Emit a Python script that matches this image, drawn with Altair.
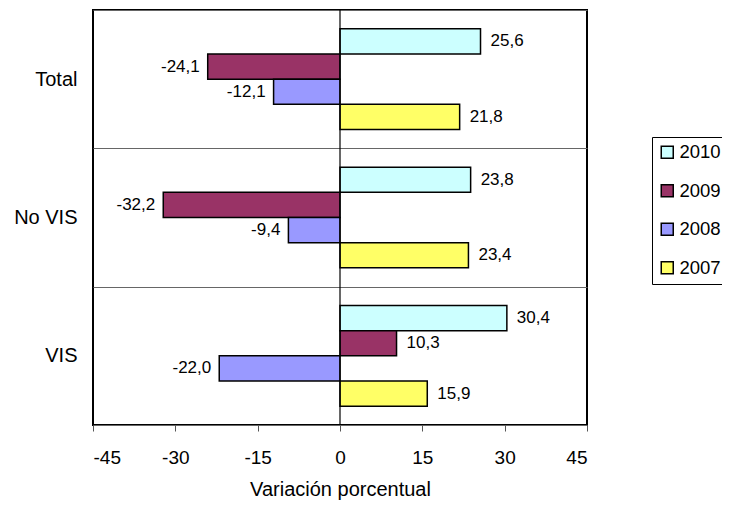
import altair as alt
import pandas as pd

categories = ["Total", "No VIS", "VIS"]
years = ["2010", "2009", "2008", "2007"]
values = {
    "Total": [25.6, -24.1, -12.1, 21.8],
    "No VIS": [23.8, -32.2, -9.4, 23.4],
    "VIS": [30.4, 10.3, -22.0, 15.9],
}
colors = ["#CCFFFF", "#993366", "#9999FF", "#FFFF66"]
x_ticks = [-45, -30, -15, 0, 15, 30, 45]

rows = []
for c in categories:
    for y, v in zip(years, values[c]):
        rows.append({"cat": c, "year": y, "val": v,
                     "label": f"{v:.1f}".replace(".", ",")})
df = pd.DataFrame(rows)

FONT = "Liberation Sans"

x_enc = alt.X("val:Q", scale=alt.Scale(domain=[-45, 45], nice=False, zero=False),
              axis=alt.Axis(values=x_ticks, title="Variación porcentual",
                            labelExpr="toString(datum.value)",
                            grid=False, domain=False, tickSize=6, tickColor="#555555",
                            labelFontSize=19, labelPadding=17, titleFontSize=20,
                            titleFontWeight="normal", titlePadding=12,
                            labelFont=FONT, titleFont=FONT, labelColor="black",
                            titleColor="black"))
y_enc = alt.Y("cat:N", sort=categories,
              scale=alt.Scale(paddingInner=0, paddingOuter=0),
              axis=alt.Axis(title=None, grid=True, tickBand="extent", gridColor="#666666",
                            gridWidth=1, ticks=False, domain=False, labelFontSize=20,
                            labelPadding=16, labelFont=FONT, labelColor="black"))
yoff = alt.YOffset("year:N", sort=years, scale=alt.Scale(paddingInner=0, paddingOuter=0.75))

base = alt.Chart(df)

bars = base.mark_bar(stroke="black", strokeWidth=1.5, opacity=1).encode(
    x=x_enc,
    y=y_enc,
    yOffset=yoff,
    color=alt.Color("year:N", sort=years,
                    scale=alt.Scale(domain=years, range=colors),
                    legend=alt.Legend(title=None, orient="none", legendX=559, legendY=127,
                                      symbolType="square", symbolSize=144,
                                      symbolStrokeColor="black", symbolStrokeWidth=1.5,
                                      symbolOpacity=1, labelFontSize=18.5, labelFont=FONT,
                                      labelColor="black", rowPadding=19.5, padding=6,
                                      strokeColor="black", fillColor="white",
                                      labelOffset=3)),
)

pos = base.transform_filter("datum.val >= 0").mark_text(
    align="left", baseline="middle", dx=10, fontSize=17, font=FONT, color="black"
).encode(x="val:Q", y=alt.Y("cat:N", sort=categories), yOffset=yoff, text="label:N")

neg = base.transform_filter("datum.val < 0").mark_text(
    align="right", baseline="middle", dx=-8, fontSize=17, font=FONT, color="black"
).encode(x="val:Q", y=alt.Y("cat:N", sort=categories), yOffset=yoff, text="label:N")

zero = alt.Chart(pd.DataFrame({"z": [0]})).mark_rule(color="black", strokeWidth=1.2).encode(
    x="z:Q")

chart = alt.layer(bars, zero, pos, neg).properties(
    width=494, height=415,
    autosize=alt.AutoSizeParams(type="none"),
    padding={"left": 85, "top": 2, "right": 135, "bottom": 78},
).configure_view(stroke="black", strokeWidth=2)

chart.save("out.html", embed_options={"renderer": "svg", "actions": False})
